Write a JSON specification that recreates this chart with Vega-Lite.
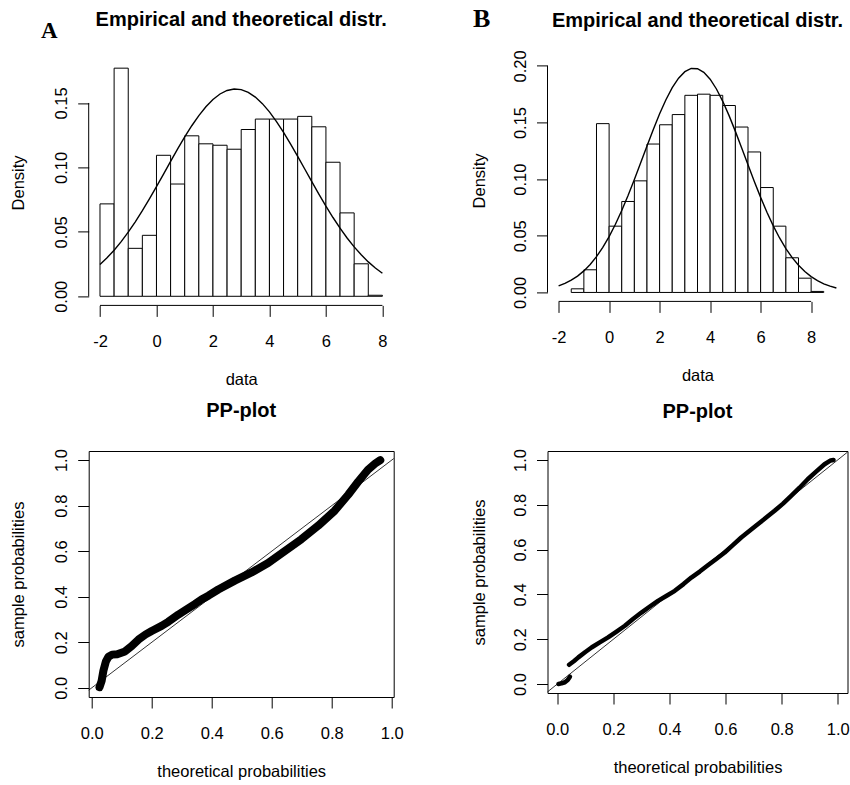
{
"$schema": "https://vega.github.io/schema/vega-lite/v6.json",
"autosize": {"type": "none"},
"padding": {"left": 88.7, "top": 59.4, "right": 761.3, "bottom": 725.6},
"background": "white",
"columns": 2,
"bounds": "flush",
"spacing": {"row": 145.6, "column": 153.8},
"config": {
  "font": "Liberation Sans",
  "view": {"stroke": null},
  "title": {"fontSize": 20, "fontWeight": "bold", "color": "black", "baseline": "alphabetic", "frame": "group", "anchor": "middle"},
  "axis": {"grid": false, "domain": false, "tickColor": "black", "tickSize": 11, "tickWidth": 1, "labelColor": "black", "labelFontSize": 16.5, "labelFlush": false, "labelOverlap": false, "titleColor": "black", "titleFontSize": 16.5, "titleFontWeight": "normal"},
  "axisX": {"labelPadding": 17, "titlePadding": 22},
  "axisY": {"labelAngle": -90, "labelAlign": "center", "labelBaseline": "bottom", "labelPadding": 8, "titlePadding": 27}
},
"datasets": {
  "histA": [
    {"lo": -2, "hi": -1.5, "density": 0.0717}, {"lo": -1.5, "hi": -1, "density": 0.177}, {"lo": -1, "hi": -0.5, "density": 0.0372}, {"lo": -0.5, "hi": 0, "density": 0.0473},
    {"lo": 0, "hi": 0.5, "density": 0.1094}, {"lo": 0.5, "hi": 1, "density": 0.0871}, {"lo": 1, "hi": 1.5, "density": 0.1245}, {"lo": 1.5, "hi": 2, "density": 0.1183},
    {"lo": 2, "hi": 2.5, "density": 0.1172}, {"lo": 2.5, "hi": 3, "density": 0.1141}, {"lo": 3, "hi": 3.5, "density": 0.1294}, {"lo": 3.5, "hi": 4, "density": 0.1375},
    {"lo": 4, "hi": 4.5, "density": 0.1375}, {"lo": 4.5, "hi": 5, "density": 0.1375}, {"lo": 5, "hi": 5.5, "density": 0.1396}, {"lo": 5.5, "hi": 6, "density": 0.1315},
    {"lo": 6, "hi": 6.5, "density": 0.104}, {"lo": 6.5, "hi": 7, "density": 0.0647}, {"lo": 7, "hi": 7.5, "density": 0.0252}, {"lo": 7.5, "hi": 8, "density": 0.0008}
  ],
  "histB": [
    {"lo": -1.5, "hi": -1, "density": 0.0032}, {"lo": -1, "hi": -0.5, "density": 0.020}, {"lo": -0.5, "hi": 0, "density": 0.149}, {"lo": 0, "hi": 0.5, "density": 0.0585},
    {"lo": 0.5, "hi": 1, "density": 0.0803}, {"lo": 1, "hi": 1.5, "density": 0.0985}, {"lo": 1.5, "hi": 2, "density": 0.131}, {"lo": 2, "hi": 2.5, "density": 0.148},
    {"lo": 2.5, "hi": 3, "density": 0.157}, {"lo": 3, "hi": 3.5, "density": 0.174}, {"lo": 3.5, "hi": 4, "density": 0.175}, {"lo": 4, "hi": 4.5, "density": 0.174},
    {"lo": 4.5, "hi": 5, "density": 0.165}, {"lo": 5, "hi": 5.5, "density": 0.146}, {"lo": 5.5, "hi": 6, "density": 0.124}, {"lo": 6, "hi": 6.5, "density": 0.0926},
    {"lo": 6.5, "hi": 7, "density": 0.0585}, {"lo": 7, "hi": 7.5, "density": 0.0306}, {"lo": 7.5, "hi": 8, "density": 0.0126}, {"lo": 8, "hi": 8.5, "density": 0.0009}
  ],
  "curveA": [
    {"x": -2, "d": 0.02473}, {"x": -1.75, "d": 0.0299}, {"x": -1.5, "d": 0.03578}, {"x": -1.25, "d": 0.0424}, {"x": -1, "d": 0.04974}, {"x": -0.75, "d": 0.05775},
    {"x": -0.5, "d": 0.06638}, {"x": -0.25, "d": 0.07551}, {"x": 0, "d": 0.08505}, {"x": 0.25, "d": 0.09482}, {"x": 0.5, "d": 0.10465}, {"x": 0.75, "d": 0.11432},
    {"x": 1, "d": 0.12361}, {"x": 1.25, "d": 0.13233}, {"x": 1.5, "d": 0.14021}, {"x": 1.75, "d": 0.14708}, {"x": 2, "d": 0.15271}, {"x": 2.25, "d": 0.15696},
    {"x": 2.5, "d": 0.1597}, {"x": 2.75, "d": 0.16084}, {"x": 3, "d": 0.16035}, {"x": 3.25, "d": 0.15824}, {"x": 3.5, "d": 0.15459}, {"x": 3.75, "d": 0.14949},
    {"x": 4, "d": 0.1431}, {"x": 4.25, "d": 0.13559}, {"x": 4.5, "d": 0.12719}, {"x": 4.75, "d": 0.11809}, {"x": 5, "d": 0.10854}, {"x": 5.25, "d": 0.09875},
    {"x": 5.5, "d": 0.08894}, {"x": 5.75, "d": 0.07929}, {"x": 6, "d": 0.06997}, {"x": 6.25, "d": 0.06113}, {"x": 6.5, "d": 0.05286}, {"x": 6.75, "d": 0.04525},
    {"x": 7, "d": 0.03834}, {"x": 7.25, "d": 0.03216}, {"x": 7.5, "d": 0.0267}, {"x": 7.75, "d": 0.02195}, {"x": 8, "d": 0.01786}
  ],
  "curveB": [
    {"x": -2, "d": 0.005758}, {"x": -1.75, "d": 0.007947}, {"x": -1.5, "d": 0.010805}, {"x": -1.25, "d": 0.01446}, {"x": -1, "d": 0.01905}, {"x": -0.75, "d": 0.02473},
    {"x": -0.5, "d": 0.03161}, {"x": -0.25, "d": 0.03978}, {"x": 0, "d": 0.0493}, {"x": 0.25, "d": 0.06017}, {"x": 0.5, "d": 0.07231}, {"x": 0.75, "d": 0.08557},
    {"x": 1, "d": 0.09972}, {"x": 1.25, "d": 0.11443}, {"x": 1.5, "d": 0.12931}, {"x": 1.75, "d": 0.14389}, {"x": 2, "d": 0.15766}, {"x": 2.25, "d": 0.17012},
    {"x": 2.5, "d": 0.18075}, {"x": 2.75, "d": 0.18912}, {"x": 3, "d": 0.19486}, {"x": 3.25, "d": 0.1977}, {"x": 3.5, "d": 0.19751}, {"x": 3.75, "d": 0.19432},
    {"x": 4, "d": 0.18825}, {"x": 4.25, "d": 0.17959}, {"x": 4.5, "d": 0.16871}, {"x": 4.75, "d": 0.15607}, {"x": 5, "d": 0.14217}, {"x": 5.25, "d": 0.12753},
    {"x": 5.5, "d": 0.11264}, {"x": 5.75, "d": 0.09798}, {"x": 6, "d": 0.08393}, {"x": 6.25, "d": 0.07079}, {"x": 6.5, "d": 0.0588}, {"x": 6.75, "d": 0.04809},
    {"x": 7, "d": 0.03873}, {"x": 7.25, "d": 0.03071}, {"x": 7.5, "d": 0.02399}, {"x": 7.75, "d": 0.01846}, {"x": 8, "d": 0.01397}, {"x": 8.25, "d": 0.01042},
    {"x": 8.5, "d": 0.00765}, {"x": 8.75, "d": 0.00553}, {"x": 9, "d": 0.00394}
  ],
  "ppA": [
    {"t": 0.026, "s": 0.003}, {"t": 0.033, "s": 0.03}, {"t": 0.039, "s": 0.075}, {"t": 0.047, "s": 0.115}, {"t": 0.056, "s": 0.137}, {"t": 0.068, "s": 0.146},
    {"t": 0.085, "s": 0.148}, {"t": 0.111, "s": 0.16}, {"t": 0.133, "s": 0.183}, {"t": 0.156, "s": 0.212}, {"t": 0.18, "s": 0.235}, {"t": 0.2, "s": 0.25},
    {"t": 0.233, "s": 0.272}, {"t": 0.255, "s": 0.29}, {"t": 0.289, "s": 0.322}, {"t": 0.311, "s": 0.34}, {"t": 0.344, "s": 0.368}, {"t": 0.366, "s": 0.388},
    {"t": 0.389, "s": 0.405}, {"t": 0.422, "s": 0.432}, {"t": 0.477, "s": 0.471}, {"t": 0.533, "s": 0.507}, {"t": 0.588, "s": 0.548}, {"t": 0.644, "s": 0.601},
    {"t": 0.699, "s": 0.653}, {"t": 0.755, "s": 0.712}, {"t": 0.81, "s": 0.778}, {"t": 0.855, "s": 0.848}, {"t": 0.888, "s": 0.905}, {"t": 0.921, "s": 0.958},
    {"t": 0.945, "s": 0.985}, {"t": 0.962, "s": 1.0}
  ],
  "ppB": [
    {"seg": 1, "t": 0.004, "s": 0.0}, {"seg": 1, "t": 0.015, "s": 0.003}, {"seg": 1, "t": 0.027, "s": 0.008}, {"seg": 1, "t": 0.037, "s": 0.018}, {"seg": 1, "t": 0.045, "s": 0.033},
    {"seg": 2, "t": 0.042, "s": 0.086}, {"seg": 2, "t": 0.06, "s": 0.103}, {"seg": 2, "t": 0.075, "s": 0.119}, {"seg": 2, "t": 0.1, "s": 0.143}, {"seg": 2, "t": 0.122, "s": 0.163},
    {"seg": 2, "t": 0.15, "s": 0.185}, {"seg": 2, "t": 0.181, "s": 0.208}, {"seg": 2, "t": 0.21, "s": 0.233}, {"seg": 2, "t": 0.241, "s": 0.26}, {"seg": 2, "t": 0.27, "s": 0.29},
    {"seg": 2, "t": 0.3, "s": 0.319}, {"seg": 2, "t": 0.33, "s": 0.346}, {"seg": 2, "t": 0.359, "s": 0.371}, {"seg": 2, "t": 0.39, "s": 0.394}, {"seg": 2, "t": 0.419, "s": 0.416},
    {"seg": 2, "t": 0.45, "s": 0.446}, {"seg": 2, "t": 0.478, "s": 0.475}, {"seg": 2, "t": 0.508, "s": 0.502}, {"seg": 2, "t": 0.537, "s": 0.53}, {"seg": 2, "t": 0.567, "s": 0.558},
    {"seg": 2, "t": 0.597, "s": 0.587}, {"seg": 2, "t": 0.626, "s": 0.62}, {"seg": 2, "t": 0.656, "s": 0.654}, {"seg": 2, "t": 0.686, "s": 0.684}, {"seg": 2, "t": 0.715, "s": 0.713},
    {"seg": 2, "t": 0.745, "s": 0.743}, {"seg": 2, "t": 0.775, "s": 0.773}, {"seg": 2, "t": 0.805, "s": 0.805}, {"seg": 2, "t": 0.834, "s": 0.84}, {"seg": 2, "t": 0.864, "s": 0.876},
    {"seg": 2, "t": 0.893, "s": 0.914}, {"seg": 2, "t": 0.923, "s": 0.948}, {"seg": 2, "t": 0.953, "s": 0.981}, {"seg": 2, "t": 0.975, "s": 0.998}, {"seg": 2, "t": 0.985, "s": 1.0}
  ]
},
"concat": [
  {
    "width": 305, "height": 246,
    "title": {"text": "Empirical and theoretical distr.", "offset": -9.8},
    "layer": [
      {
        "data": {"name": "histA"},
        "mark": {"type": "rect", "fill": "white", "stroke": "black", "strokeWidth": 1},
        "encoding": {
          "x": {"field": "lo", "type": "quantitative", "scale": {"domain": [-2.4, 8.4], "nice": false, "zero": false},
                "axis": {"values": [-2, 0, 2, 4, 6, 8], "labelExpr": "'' + datum.value", "title": "data"}},
          "x2": {"field": "hi"},
          "y": {"field": "density", "type": "quantitative", "scale": {"domain": [-0.00707, 0.1838], "nice": false, "zero": false},
                "axis": {"values": [0, 0.05, 0.1, 0.15], "format": ".2f", "title": "Density"}},
          "y2": {"datum": 0}
        }
      },
      {
        "data": {"name": "curveA"},
        "mark": {"type": "line", "color": "black", "strokeWidth": 1.4},
        "encoding": {"x": {"field": "x", "type": "quantitative"}, "y": {"field": "d", "type": "quantitative"}}
      },
      {
        "data": {"values": [{}]},
        "mark": {"type": "rule", "color": "black", "strokeWidth": 1},
        "encoding": {"x": {"datum": -2}, "x2": {"datum": 8}, "y": {"datum": -0.00707}}
      },
      {
        "data": {"values": [{}]},
        "mark": {"type": "rule", "color": "black", "strokeWidth": 1},
        "encoding": {"x": {"datum": -2.4}, "y": {"datum": 0}, "y2": {"datum": 0.15}}
      },
      {
        "data": {"values": [{}]},
        "mark": {"type": "text", "text": "A", "font": "Liberation Serif", "fontWeight": "bold", "fontSize": 23, "align": "center", "baseline": "alphabetic", "color": "black"},
        "encoding": {"x": {"datum": -3.799}, "y": {"datum": 0.2002}}
      }
    ]
  },
  {
    "width": 300, "height": 242,
    "title": {"text": "Empirical and theoretical distr.", "offset": -24.3},
    "layer": [
      {
        "data": {"name": "histB"},
        "mark": {"type": "rect", "fill": "white", "stroke": "black", "strokeWidth": 1},
        "encoding": {
          "x": {"field": "lo", "type": "quantitative", "scale": {"domain": [-2.44, 9.44], "nice": false, "zero": false},
                "axis": {"values": [-2, 0, 2, 4, 6, 8], "labelExpr": "'' + datum.value", "title": "data"}},
          "x2": {"field": "hi"},
          "y": {"field": "density", "type": "quantitative", "scale": {"domain": [-0.0079, 0.2057], "nice": false, "zero": false},
                "axis": {"values": [0, 0.05, 0.1, 0.15, 0.2], "format": ".2f", "title": "Density", "titlePadding": 25}},
          "y2": {"datum": 0}
        }
      },
      {
        "data": {"name": "curveB"},
        "mark": {"type": "line", "color": "black", "strokeWidth": 1.4},
        "encoding": {"x": {"field": "x", "type": "quantitative"}, "y": {"field": "d", "type": "quantitative"}}
      },
      {
        "data": {"values": [{}]},
        "mark": {"type": "rule", "color": "black", "strokeWidth": 1},
        "encoding": {"x": {"datum": -2}, "x2": {"datum": 8}, "y": {"datum": -0.0079}}
      },
      {
        "data": {"values": [{}]},
        "mark": {"type": "rule", "color": "black", "strokeWidth": 1},
        "encoding": {"x": {"datum": -2.44}, "y": {"datum": 0}, "y2": {"datum": 0.2}}
      },
      {
        "data": {"values": [{}]},
        "mark": {"type": "text", "text": "B", "font": "Liberation Serif", "fontWeight": "bold", "fontSize": 26, "align": "center", "baseline": "alphabetic", "color": "black"},
        "encoding": {"x": {"datum": -5.046}, "y": {"datum": 0.2341}}
      }
    ]
  },
  {
    "width": 305, "height": 246,
    "title": {"text": "PP-plot", "offset": 27.2},
    "view": {"stroke": "black", "strokeWidth": 1},
    "layer": [
      {
        "data": {"name": "ppA"},
        "mark": {"type": "line", "color": "black", "strokeWidth": 8, "strokeCap": "round", "strokeJoin": "round"},
        "encoding": {
          "x": {"field": "t", "type": "quantitative", "scale": {"domain": [-0.01, 1.0067], "nice": false, "zero": false},
                "axis": {"values": [0, 0.2, 0.4, 0.6, 0.8, 1], "format": ".1f", "title": "theoretical probabilities"}},
          "y": {"field": "s", "type": "quantitative", "scale": {"domain": [-0.04, 1.04], "nice": false, "zero": false},
                "axis": {"values": [0, 0.2, 0.4, 0.6, 0.8, 1], "format": ".1f", "title": "sample probabilities"}}
        }
      },
      {
        "data": {"values": [{}]},
        "mark": {"type": "rule", "color": "black", "strokeWidth": 0.8},
        "encoding": {"x": {"datum": -0.01}, "y": {"datum": -0.01}, "x2": {"datum": 1.0067}, "y2": {"datum": 1.0067}}
      }
    ]
  },
  {
    "width": 300, "height": 242,
    "title": {"text": "PP-plot", "offset": 26.2},
    "view": {"stroke": "black", "strokeWidth": 1},
    "layer": [
      {
        "data": {"name": "ppB"},
        "mark": {"type": "line", "color": "black", "strokeWidth": 4.5, "strokeCap": "round", "strokeJoin": "round"},
        "encoding": {
          "x": {"field": "t", "type": "quantitative", "scale": {"domain": [-0.035, 1.035], "nice": false, "zero": false},
                "axis": {"values": [0, 0.2, 0.4, 0.6, 0.8, 1], "format": ".1f", "title": "theoretical probabilities"}},
          "y": {"field": "s", "type": "quantitative", "scale": {"domain": [-0.04, 1.04], "nice": false, "zero": false},
                "axis": {"values": [0, 0.2, 0.4, 0.6, 0.8, 1], "format": ".1f", "title": "sample probabilities", "titlePadding": 25}},
          "detail": {"field": "seg", "type": "nominal"}
        }
      },
      {
        "data": {"values": [{}]},
        "mark": {"type": "rule", "color": "black", "strokeWidth": 0.8},
        "encoding": {"x": {"datum": -0.035}, "y": {"datum": -0.035}, "x2": {"datum": 1.035}, "y2": {"datum": 1.035}}
      }
    ]
  }
]
}
